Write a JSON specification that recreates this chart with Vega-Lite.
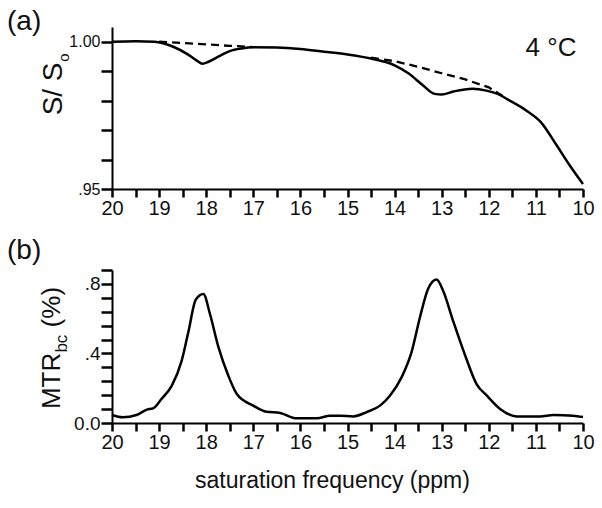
{
  "$schema": "https://vega.github.io/schema/vega-lite/v6.json",
  "padding": {"left": 7, "top": 8, "right": 8, "bottom": 5},
  "spacing": 19,
  "config": {
    "font": "Liberation Sans",
    "view": {"stroke": null},
    "axis": {"grid": false, "ticks": true, "domainColor": "#000", "domainWidth": 2, "tickColor": "#000", "tickWidth": 2.5, "tickOpacity": 1, "labelColor": "#111", "titleColor": "#111", "labelFont": "Liberation Sans", "titleFont": "Liberation Sans", "titleFontWeight": "normal", "labelOverlap": false, "labelFlush": false},
    "text": {"font": "Liberation Sans", "color": "#111"}
  },
  "datasets": {
    "sa": [
      {"freq": 20.0, "s": 1.0000}, {"freq": 19.5, "s": 1.0002}, {"freq": 19.1, "s": 1.0000},
      {"freq": 18.7, "s": 0.9983}, {"freq": 18.4, "s": 0.9958}, {"freq": 18.2, "s": 0.9936},
      {"freq": 18.08, "s": 0.9925}, {"freq": 17.95, "s": 0.9932}, {"freq": 17.7, "s": 0.9953},
      {"freq": 17.5, "s": 0.9968}, {"freq": 17.25, "s": 0.9977}, {"freq": 17.0, "s": 0.9981},
      {"freq": 16.5, "s": 0.9980}, {"freq": 16.0, "s": 0.9975}, {"freq": 15.5, "s": 0.9966},
      {"freq": 15.0, "s": 0.9957}, {"freq": 14.5, "s": 0.9943}, {"freq": 14.0, "s": 0.9920},
      {"freq": 13.7, "s": 0.9892}, {"freq": 13.4, "s": 0.9852}, {"freq": 13.15, "s": 0.9823},
      {"freq": 13.0, "s": 0.9821}, {"freq": 12.75, "s": 0.9831}, {"freq": 12.35, "s": 0.9840},
      {"freq": 12.05, "s": 0.9834}, {"freq": 11.8, "s": 0.9822}, {"freq": 11.6, "s": 0.9804},
      {"freq": 11.2, "s": 0.9766}, {"freq": 10.9, "s": 0.9728}, {"freq": 10.55, "s": 0.9646},
      {"freq": 10.28, "s": 0.9580}, {"freq": 10.0, "s": 0.9517}
    ],
    "base": [
      {"seg": "a", "freq": 19.0, "s": 1.0000}, {"seg": "a", "freq": 18.5, "s": 0.9996},
      {"seg": "a", "freq": 18.0, "s": 0.9991}, {"seg": "a", "freq": 17.5, "s": 0.9986},
      {"seg": "a", "freq": 17.0, "s": 0.9982},
      {"seg": "b", "freq": 14.5, "s": 0.9946}, {"seg": "b", "freq": 14.0, "s": 0.9934},
      {"seg": "b", "freq": 13.5, "s": 0.9915}, {"seg": "b", "freq": 13.0, "s": 0.9893},
      {"seg": "b", "freq": 12.5, "s": 0.9872}, {"seg": "b", "freq": 12.0, "s": 0.9845},
      {"seg": "b", "freq": 11.7, "s": 0.9815}
    ],
    "mtr": [
      {"freq": 20.0, "m": 0.046}, {"freq": 19.77, "m": 0.033}, {"freq": 19.48, "m": 0.046},
      {"freq": 19.26, "m": 0.077}, {"freq": 19.13, "m": 0.084}, {"freq": 18.95, "m": 0.138},
      {"freq": 18.73, "m": 0.215}, {"freq": 18.52, "m": 0.359}, {"freq": 18.38, "m": 0.522},
      {"freq": 18.22, "m": 0.71}, {"freq": 18.06, "m": 0.742}, {"freq": 17.92, "m": 0.627},
      {"freq": 17.74, "m": 0.436}, {"freq": 17.53, "m": 0.272}, {"freq": 17.35, "m": 0.167},
      {"freq": 17.0, "m": 0.1}, {"freq": 16.72, "m": 0.065}, {"freq": 16.43, "m": 0.058},
      {"freq": 16.08, "m": 0.027}, {"freq": 15.65, "m": 0.027}, {"freq": 15.37, "m": 0.042},
      {"freq": 15.16, "m": 0.042}, {"freq": 14.88, "m": 0.038}, {"freq": 14.59, "m": 0.063},
      {"freq": 14.31, "m": 0.1}, {"freq": 14.1, "m": 0.157}, {"freq": 13.85, "m": 0.264},
      {"freq": 13.64, "m": 0.408}, {"freq": 13.46, "m": 0.61}, {"freq": 13.29, "m": 0.771},
      {"freq": 13.11, "m": 0.825}, {"freq": 12.97, "m": 0.761}, {"freq": 12.76, "m": 0.589},
      {"freq": 12.5, "m": 0.387}, {"freq": 12.26, "m": 0.224}, {"freq": 12.04, "m": 0.157},
      {"freq": 11.76, "m": 0.081}, {"freq": 11.41, "m": 0.038}, {"freq": 10.91, "m": 0.038},
      {"freq": 10.63, "m": 0.046}, {"freq": 10.21, "m": 0.042}, {"freq": 10.0, "m": 0.034}
    ],
    "labels": [{"panel_a": "(a)", "panel_b": "(b)", "temp": "4 °C", "ya": "S/ S", "ya_sub": "o", "yb": "MTR", "yb_sub": "bc", "yb_unit": "(%)"}]
  },
  "vconcat": [
    {
      "width": 471,
      "height": 162,
      "layer": [
        {
          "data": {"name": "sa"},
          "mark": {"type": "line", "color": "#000", "strokeWidth": 2.5, "interpolate": "monotone"},
          "encoding": {
            "x": {"field": "freq", "type": "quantitative",
                  "scale": {"domain": [10, 20], "reverse": true, "nice": false, "zero": false},
                  "axis": {"title": null, "ticks": true, "tickCount": 21, "values": [20, 19.5, 19, 18.5, 18, 17.5, 17, 16.5, 16, 15.5, 15, 14.5, 14, 13.5, 13, 12.5, 12, 11.5, 11, 10.5, 10],
                           "labelExpr": "datum.value % 1 === 0 ? format(datum.value, 'd') : ''",
                           "tickSize": 8, "tickColor": "#000", "labelFontSize": 20, "labelPadding": 1}},
            "y": {"field": "s", "type": "quantitative",
                  "scale": {"domain": [0.95, 1.005], "nice": false, "zero": false},
                  "axis": {"title": null, "ticks": true, "tickCount": 6, "values": [0.95, 0.96, 0.97, 0.98, 0.99, 1.0],
                           "labelExpr": "abs(datum.value - 1) < 0.001 ? '1.00' : (abs(datum.value - 0.95) < 0.001 ? '.95' : '')",
                           "tickSize": 11, "tickColor": "#000", "labelFontSize": 16, "labelPadding": 1}}
          }
        },
        {
          "data": {"name": "base"},
          "mark": {"type": "line", "color": "#000", "strokeWidth": 2.3, "strokeDash": [8, 5]},
          "encoding": {
            "x": {"field": "freq", "type": "quantitative"},
            "y": {"field": "s", "type": "quantitative"},
            "detail": {"field": "seg"}
          }
        },
        {
          "data": {"name": "labels"},
          "mark": {"type": "text", "fontSize": 26, "align": "center", "baseline": "alphabetic"},
          "encoding": {
            "x": {"datum": 10.68, "type": "quantitative"},
            "y": {"datum": 0.9952, "type": "quantitative"},
            "text": {"field": "temp"}
          }
        },
        {
          "data": {"name": "labels"},
          "mark": {"type": "text", "fontSize": 28, "align": "left", "baseline": "alphabetic", "dx": -105, "dy": 3},
          "encoding": {
            "x": {"datum": 20, "type": "quantitative"},
            "y": {"datum": 1.005, "type": "quantitative"},
            "text": {"field": "panel_a"}
          }
        },
        {
          "data": {"name": "labels"},
          "mark": {"type": "text", "fontSize": 28, "align": "left", "baseline": "alphabetic", "angle": 270, "dy": -50},
          "encoding": {
            "x": {"datum": 20, "type": "quantitative"},
            "y": {"datum": 0.975, "type": "quantitative"},
            "text": {"field": "ya"}
          }
        },
        {
          "data": {"name": "labels"},
          "mark": {"type": "text", "fontSize": 15, "align": "left", "baseline": "alphabetic", "angle": 270, "dy": -43},
          "encoding": {
            "x": {"datum": 20, "type": "quantitative"},
            "y": {"datum": 0.9932, "type": "quantitative"},
            "text": {"field": "ya_sub"}
          }
        }
      ]
    },
    {
      "width": 471,
      "height": 153,
      "layer": [
        {
          "data": {"name": "mtr"},
          "mark": {"type": "line", "color": "#000", "strokeWidth": 2.5, "interpolate": "monotone"},
          "encoding": {
            "x": {"field": "freq", "type": "quantitative",
                  "scale": {"domain": [10, 20], "reverse": true, "nice": false, "zero": false},
                  "axis": {"title": "saturation frequency (ppm)", "ticks": true, "tickCount": 21, "values": [20, 19.5, 19, 18.5, 18, 17.5, 17, 16.5, 16, 15.5, 15, 14.5, 14, 13.5, 13, 12.5, 12, 11.5, 11, 10.5, 10],
                           "labelExpr": "datum.value % 1 === 0 ? format(datum.value, 'd') : ''",
                           "tickSize": 8, "tickColor": "#000", "labelFontSize": 20, "labelPadding": 1,
                           "titleFontSize": 23, "titlePadding": 17, "titleX": 220}},
            "y": {"field": "m", "type": "quantitative",
                  "scale": {"domain": [0, 0.88], "nice": false, "zero": false},
                  "axis": {"title": null, "ticks": true, "tickCount": 12, "values": [0, 0.08, 0.16, 0.24, 0.32, 0.4, 0.48, 0.56, 0.64, 0.72, 0.8, 0.88],
                           "labelExpr": "abs(datum.value) < 0.001 ? '0.0' : (abs(datum.value - 0.4) < 0.001 ? '.4' : (abs(datum.value - 0.8) < 0.001 ? '.8' : ''))",
                           "tickSize": 11, "tickColor": "#000", "labelFontSize": 19, "labelPadding": 1}}
          }
        },
        {
          "data": {"name": "labels"},
          "mark": {"type": "text", "fontSize": 28, "align": "left", "baseline": "alphabetic", "dx": -105, "dy": -11},
          "encoding": {
            "x": {"datum": 20, "type": "quantitative"},
            "y": {"datum": 0.88, "type": "quantitative"},
            "text": {"field": "panel_b"}
          }
        },
        {
          "data": {"name": "labels"},
          "mark": {"type": "text", "fontSize": 26, "align": "left", "baseline": "alphabetic", "angle": 270, "dy": -52},
          "encoding": {
            "x": {"datum": 20, "type": "quantitative"},
            "y": {"datum": 0.08, "type": "quantitative"},
            "text": {"field": "yb"}
          }
        },
        {
          "data": {"name": "labels"},
          "mark": {"type": "text", "fontSize": 17, "align": "left", "baseline": "alphabetic", "angle": 270, "dy": -45},
          "encoding": {
            "x": {"datum": 20, "type": "quantitative"},
            "y": {"datum": 0.405, "type": "quantitative"},
            "text": {"field": "yb_sub"}
          }
        },
        {
          "data": {"name": "labels"},
          "mark": {"type": "text", "fontSize": 26, "align": "left", "baseline": "alphabetic", "angle": 270, "dy": -52},
          "encoding": {
            "x": {"datum": 20, "type": "quantitative"},
            "y": {"datum": 0.55, "type": "quantitative"},
            "text": {"field": "yb_unit"}
          }
        }
      ]
    }
  ]
}
